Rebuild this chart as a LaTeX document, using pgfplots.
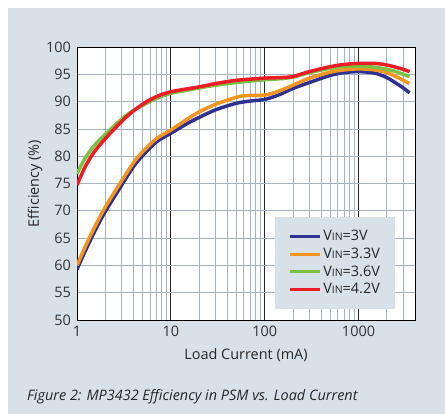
\documentclass[border=0pt]{standalone}
\usepackage{pgfplots}
\pgfplotsset{compat=1.18}
\usepackage{fontspec}
\setmainfont{Open Sans}
\definecolor{bgc}{HTML}{D9E1E8}
\definecolor{gridc}{HTML}{A3B4C0}
\definecolor{c1}{HTML}{2E3192}
\definecolor{c2}{HTML}{F7941D}
\definecolor{c3}{HTML}{7AC143}
\definecolor{c4}{HTML}{ED1C24}
\newcommand{\vin}{V{\fontsize{10.5}{12}\selectfont IN}}
\newcommand{\fs}{\fontsize{14.5}{17}\selectfont}
\begin{document}
\fs
\begin{tikzpicture}
\fill[white] (0bp,0bp) rectangle (445bp,-414bp);
\fill[bgc] (8bp,-8bp) rectangle (445bp,-414bp);
\begin{axis}[
 at={(77bp,-320bp)}, anchor=south west,
 scale only axis, width=338bp, height=273bp,
 xmode=log, xmin=1, xmax=4000, ymin=50, ymax=100,
 xtick={1,10,100,1000}, xticklabels={1,10,100,1000},
 minor xtick={2,3,4,5,6,7,8,9,20,30,40,50,60,70,80,90,200,300,400,500,600,700,800,900,2000,3000},
 ytick={50,55,...,100},
 grid=both,
 major x grid style={black!85, line width=0.9pt},
 minor x grid style={gridc, line width=0.8pt},
 major y grid style={gridc, line width=0.8pt},
 axis line style={black, line width=1pt},
 axis background/.style={fill=white},
 major tick length=0pt, minor tick length=0pt,
 /pgf/number format/assume math mode=true,
 tick label style={font=\fs, text=black!80},
 yticklabel style={xshift=-1bp},
 xticklabel style={yshift=-1bp},
 xlabel={Load Current (mA)}, ylabel={Efficiency (\%)},
 label style={font=\fs, text=black!85},
 x label style={at={(axis description cs:0.5,-0.128)}, anchor=center},
 y label style={at={(axis description cs:-0.124,0.5)}, anchor=center},
 legend style={at={(axis description cs:0.941,0.04)}, anchor=south east,
   fill=bgc, draw=none, font=\fs, text=black!85,
   inner xsep=13bp, inner ysep=11bp, row sep=1bp},
 legend cell align=left,
 legend image code/.code={\draw[#1, line width=3pt] (0bp,0bp) -- (30bp,0bp);},
 every axis plot/.append style={line width=3.5pt, smooth},
]
\addplot[c1] coordinates {
(1,59.3) (1.35,64.2) (1.9,69.2) (2.87,74.2) (4,78.1) (5,80.1) (7,82.6) (10,84.2)
(15,86.0) (20,87.1) (30,88.5) (50,89.7) (70,90.1) (100,90.4) (140,91.2) (200,92.4)
(300,93.5) (500,94.8) (700,95.3) (1000,95.5) (1500,95.2) (2000,94.4) (2500,93.4) (3000,92.5) (3500,91.6)};
\addplot[c2] coordinates {
(1,60.0) (1.35,65.0) (1.9,70.0) (2.87,75.0) (4,78.8) (5,80.8) (7,83.2) (10,84.8)
(15,86.8) (20,88.1) (30,89.5) (50,90.8) (65,91.1) (100,91.2) (140,91.9) (200,93.0)
(300,94.3) (500,95.4) (700,95.8) (1000,96.0) (1500,95.8) (2000,95.3) (2500,94.6) (3000,93.9) (3500,93.3)};
\addplot[c3] coordinates {
(1,76.8) (1.2,79.4) (1.5,81.8) (2,84.0) (3,86.8) (4,88.4) (5,89.3) (7,90.6) (10,91.5)
(20,92.5) (30,93.0) (50,93.5) (100,94.0) (150,94.2) (200,94.5) (300,95.3) (500,96.1)
(700,96.4) (1000,96.5) (1500,96.3) (2000,95.9) (2500,95.5) (3000,95.0) (3500,94.6)};
\addplot[c4] coordinates {
(1,74.7) (1.2,77.8) (1.5,80.6) (2,83.2) (3,86.4) (4,88.3) (5.3,89.8) (7,90.9) (10,91.8)
(20,92.7) (30,93.3) (50,93.9) (100,94.3) (150,94.4) (200,94.6) (300,95.5) (500,96.4)
(700,96.8) (1000,97.0) (1500,97.0) (2000,96.7) (2500,96.3) (3000,95.9) (3500,95.5)};
\legend{\vin=3V, \vin=3.3V, \vin=3.6V, \vin=4.2V}
\end{axis}
\node[anchor=base west, font=\fs\itshape, text=black!85] at (22bp,-400bp) {Figure 2: MP3432 Efficiency in PSM vs. Load Current};
\end{tikzpicture}
\end{document}
